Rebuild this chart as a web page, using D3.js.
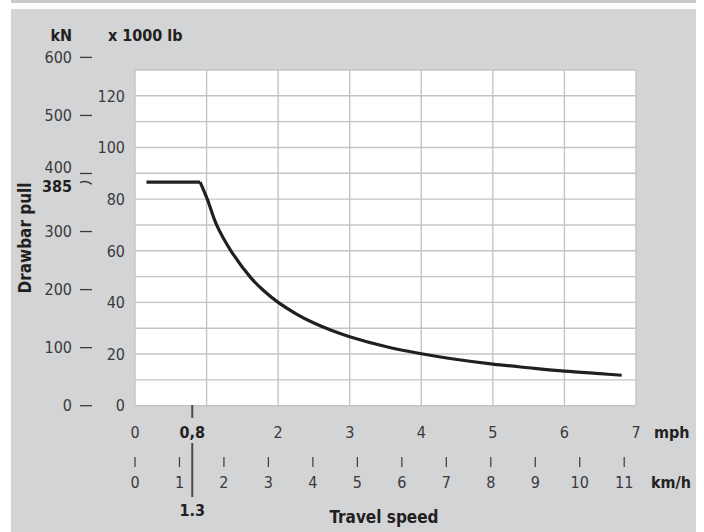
<!DOCTYPE html>
<html>
<head>
<meta charset="utf-8">
<script src="https://cdn.jsdelivr.net/npm/d3@7"></script>
<style>
  body { margin: 0; background: #ffffff; }
  svg text { font-family: "Liberation Sans Narrow", "DejaVu Sans Condensed", sans-serif; }
</style>
</head>
<body>
<div id="chart"></div>
<script>
// tick values
var mphTicks = [0, 2, 3, 4, 5, 6, 7];
var kmhTicks = [0, 1, 2, 3, 4, 5, 6, 7, 8, 9, 10, 11];
var kNTicks = [0, 100, 200, 300, 400, 500, 600];
var lbTicks = [0, 20, 40, 60, 80, 100, 120];

// marked values
var markMph = 0.8;
var markMphLabel = "0,8";
var markKmhLabel = "1.3";
var ratedPullKN = 385;

// drawbar pull curve (mph, x 1000 lb)
var speedMph = [0.16, 0.91, 1.01, 1.14, 1.34, 1.62, 1.8, 2.0, 2.25, 2.5, 2.75, 3.0, 3.5, 4.0, 4.5, 5.0, 5.5, 6.0, 6.5, 6.8];
var pullKlb = [86.6, 86.6, 80, 70, 60, 49.5, 44.5, 40, 35.6, 32, 29.1, 26.7, 22.9, 20.1, 17.9, 16.1, 14.7, 13.4, 12.4, 11.8];

window.onload = function () {

    var width = 704, height = 532;

    var svg = d3.select("#chart").append("svg")
        .attr("width", width)
        .attr("height", height);

    // background panel and top rule
    svg.append("rect").attr("x", 11).attr("y", 0).attr("width", 685).attr("height", 3).attr("fill", "#c8c9cb");
    svg.append("rect").attr("x", 11).attr("y", 9).attr("width", 685).attr("height", 523).attr("fill", "#d3d4d6");

    var left = 135, right = 636, top = 70, bottom = 405.7;

    // scales
    var xMph = d3.scaleLinear().domain([0, 7]).range([left, right]);
    var xKmh = d3.scaleLinear().domain([0, 7 * 1.609344]).range([left, right]);
    var yLb = d3.scaleLinear().domain([0, 130]).range([bottom, top]);
    var yKN = d3.scaleLinear().domain([0, 130 / 0.224809]).range([bottom, top]);

    // plot area
    svg.append("rect")
        .attr("x", left).attr("y", top)
        .attr("width", right - left).attr("height", bottom - top)
        .attr("fill", "#ffffff");

    var grid = svg.append("g").attr("stroke", "#c3c4c6").attr("stroke-width", 1.4);
    grid.selectAll(".h").data(d3.range(0, 131, 10)).enter().append("line")
        .attr("x1", left).attr("x2", right)
        .attr("y1", function (d) { return yLb(d); })
        .attr("y2", function (d) { return yLb(d); });
    grid.selectAll(".v").data(d3.range(0, 8)).enter().append("line")
        .attr("y1", top).attr("y2", bottom)
        .attr("x1", function (d) { return xMph(d); })
        .attr("x2", function (d) { return xMph(d); });

    var textColor = "#3a3a3c";
    var boldColor = "#231f20";

    // x 1000 lb axis (inner)
    svg.append("g").selectAll("text").data(lbTicks).enter().append("text")
        .attr("x", 125)
        .attr("y", function (d) { return yLb(d); })
        .attr("dy", "0.36em")
        .attr("text-anchor", "end")
        .attr("font-size", 16)
        .attr("fill", textColor)
        .text(function (d) { return d; });

    // kN axis (outer)
    var kn = svg.append("g");
    kn.selectAll("line").data(kNTicks).enter().append("line")
        .attr("x1", 80).attr("x2", 92)
        .attr("y1", function (d) { return yKN(d); })
        .attr("y2", function (d) { return yKN(d); })
        .attr("stroke", textColor).attr("stroke-width", 1.3);
    kn.selectAll("text").data(kNTicks).enter().append("text")
        .attr("x", 72)
        .attr("y", function (d) { return yKN(d) - (d === 400 ? 6 : 0); })
        .attr("dy", "0.36em")
        .attr("text-anchor", "end")
        .attr("font-size", 16)
        .attr("fill", textColor)
        .text(function (d) { return d; });

    // rated pull mark
    var yr = yKN(ratedPullKN);
    kn.append("path")
        .attr("d", "M80," + (yr + 0.5) + " Q86," + (yr - 2.5) + " 92," + (yr + 2))
        .attr("fill", "none").attr("stroke", textColor).attr("stroke-width", 1.3);
    kn.append("text")
        .attr("x", 72).attr("y", yr + 4).attr("dy", "0.36em")
        .attr("text-anchor", "end")
        .attr("font-size", 16).attr("font-weight", "bold")
        .attr("fill", boldColor)
        .text(ratedPullKN);

    // axis titles
    svg.append("text").attr("x", 72).attr("y", 35).attr("dy", "0.36em")
        .attr("text-anchor", "end").attr("font-size", 16).attr("font-weight", "bold")
        .attr("fill", boldColor).text("kN");
    svg.append("text").attr("x", 108).attr("y", 35).attr("dy", "0.36em")
        .attr("font-size", 16).attr("font-weight", "bold")
        .attr("fill", boldColor).text("x 1000 lb");
    svg.append("text")
        .attr("transform", "translate(25,238) rotate(-90)")
        .attr("dy", "0.36em")
        .attr("text-anchor", "middle").attr("font-size", 17).attr("font-weight", "bold")
        .attr("fill", boldColor).text("Drawbar pull");

    // mph axis
    var mph = svg.append("g");
    mph.selectAll("text").data(mphTicks).enter().append("text")
        .attr("x", function (d) { return xMph(d); })
        .attr("y", 432).attr("dy", "0.36em")
        .attr("text-anchor", "middle").attr("font-size", 16)
        .attr("fill", textColor)
        .text(function (d) { return d; });
    mph.append("text")
        .attr("x", xMph(markMph)).attr("y", 432).attr("dy", "0.36em")
        .attr("text-anchor", "middle").attr("font-size", 16).attr("font-weight", "bold")
        .attr("fill", boldColor).text(markMphLabel);
    mph.append("line")
        .attr("x1", xMph(markMph)).attr("x2", xMph(markMph))
        .attr("y1", 405).attr("y2", 418)
        .attr("stroke", "#4a4a4c").attr("stroke-width", 2);
    mph.append("text").attr("x", 654).attr("y", 432).attr("dy", "0.36em")
        .attr("font-size", 16).attr("font-weight", "bold")
        .attr("fill", boldColor).text("mph");

    // km/h axis
    var kmh = svg.append("g");
    kmh.selectAll("line").data(kmhTicks).enter().append("line")
        .attr("x1", function (d) { return xKmh(d); })
        .attr("x2", function (d) { return xKmh(d); })
        .attr("y1", 457).attr("y2", 467)
        .attr("stroke", textColor).attr("stroke-width", 1.2);
    kmh.selectAll("text").data(kmhTicks).enter().append("text")
        .attr("x", function (d) { return xKmh(d); })
        .attr("y", 482).attr("dy", "0.36em")
        .attr("text-anchor", "middle").attr("font-size", 16)
        .attr("fill", textColor)
        .text(function (d) { return d; });
    kmh.append("line")
        .attr("x1", xMph(markMph)).attr("x2", xMph(markMph))
        .attr("y1", 443).attr("y2", 497)
        .attr("stroke", "#4a4a4c").attr("stroke-width", 2);
    kmh.append("text")
        .attr("x", xMph(markMph)).attr("y", 510).attr("dy", "0.36em")
        .attr("text-anchor", "middle").attr("font-size", 16).attr("font-weight", "bold")
        .attr("fill", boldColor).text(markKmhLabel);
    kmh.append("text").attr("x", 651).attr("y", 482).attr("dy", "0.36em")
        .attr("font-size", 16).attr("font-weight", "bold")
        .attr("fill", boldColor).text("km/h");

    svg.append("text").attr("x", 384).attr("y", 517).attr("dy", "0.36em")
        .attr("text-anchor", "middle").attr("font-size", 17).attr("font-weight", "bold")
        .attr("fill", boldColor).text("Travel speed");

    // drawbar pull curve: flat part, then the falling part
    var pts = speedMph.map(function (s, i) { return { x: s, y: pullKlb[i] }; });
    var flat = d3.line()
        .x(function (d) { return xMph(d.x); })
        .y(function (d) { return yLb(d.y); });
    var fall = d3.line()
        .x(function (d) { return xMph(d.x); })
        .y(function (d) { return yLb(d.y); })
        .curve(d3.curveCatmullRom.alpha(0.5));

    svg.append("path")
        .datum(pts.slice(0, 2))
        .attr("fill", "none").attr("stroke", boldColor)
        .attr("stroke-width", 3.2).attr("stroke-linejoin", "round")
        .attr("d", flat);
    svg.append("path")
        .datum(pts.slice(1))
        .attr("fill", "none").attr("stroke", boldColor)
        .attr("stroke-width", 3.2).attr("stroke-linejoin", "round")
        .attr("d", fall);
};
</script>
</body>
</html>
